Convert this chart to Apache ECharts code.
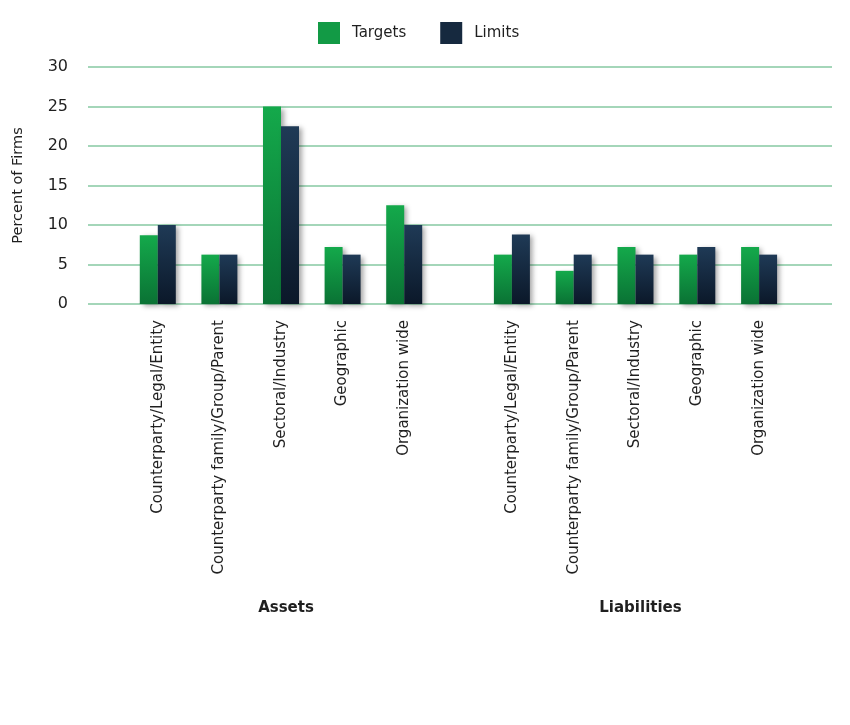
<!DOCTYPE html>
<html>
<head>
<meta charset="utf-8">
<script src="https://cdn.jsdelivr.net/npm/echarts@6/dist/echarts.min.js"></script>
<style>html,body{margin:0;padding:0;background:#fff;}#c{width:850px;height:725px;}</style>
</head>
<body>
<div id="c"></div>
<script>
const categories = ['Counterparty/Legal/Entity','Counterparty family/Group/Parent','Sectoral/Industry','Geographic','Organization wide'];
const groups = ['Assets','Liabilities'];
const assetsTargets = [8.7, 6.25, 25, 7.2, 12.5];
const assetsLimits = [10, 6.25, 22.5, 6.25, 10];
const liabTargets = [6.25, 4.2, 7.2, 6.25, 7.2];
const liabLimits = [8.8, 6.25, 6.25, 7.2, 6.25];
const yTicks = {min: 0, max: 30, interval: 5};

const FONT = 'DejaVu Sans';
const txt = '#1f1f1f';
const greenGrad = new echarts.graphic.LinearGradient(0,0,0,1,[{offset:0,color:'#14a94b'},{offset:1,color:'#0a7234'}]);
const navyGrad = new echarts.graphic.LinearGradient(0,0,0,1,[{offset:0,color:'#1f3a56'},{offset:1,color:'#0b1829'}]);
const shadow = {shadowBlur: 5, shadowOffsetX: 3, shadowOffsetY: 2, shadowColor: 'rgba(0,0,0,0.35)'};

const chart = echarts.init(document.getElementById('c'), null, {renderer:'canvas'});
const catAxis = (gi, name) => ([
  {type:'category', gridIndex:gi, data:categories, axisLine:{show:false}, axisTick:{show:false},
   axisLabel:{rotate:90, interval:0, fontSize:15, color:txt, fontFamily:FONT, margin:16}},
  {type:'category', gridIndex:gi, data:[name], position:'bottom', offset:297, axisLine:{show:false}, axisTick:{show:false},
   axisLabel:{fontSize:15, fontWeight:'bold', color:txt, fontFamily:FONT, margin:0, padding:[0,0,0,10]}}
]);
const hiddenY = gi => ({type:'value', gridIndex:gi, min:yTicks.min, max:yTicks.max, interval:yTicks.interval, show:false, splitLine:{show:false}});
const barSeries = (name, data, xi, yi, color) => ({
  name, type:'bar', data, xAxisIndex:xi, yAxisIndex:yi, barWidth:18, barGap:'0%',
  itemStyle: Object.assign({color}, shadow)
});

chart.setOption({
  animation:false,
  backgroundColor:'#fff',
  textStyle:{fontFamily:FONT},
  legend:{
    data:[{name:'Targets', itemStyle:{color:'#129a45'}},{name:'Limits', itemStyle:{color:'#16293f'}}],
    top:17, left:313, itemWidth:22, itemHeight:22, itemGap:34, icon:'rect',
    textStyle:{fontSize:15, color:txt, fontFamily:FONT, padding:[0,0,0,7]}
  },
  grid:[
    {left:88, right:18, top:67, height:237},
    {left:127, width:308, top:67, height:237},
    {left:481, width:309, top:67, height:237}
  ],
  xAxis:[
    {type:'value', gridIndex:0, min:0, max:1, show:false},
    ...catAxis(1, groups[0]),
    ...catAxis(2, groups[1])
  ],
  yAxis:[
    {type:'value', gridIndex:0, min:yTicks.min, max:yTicks.max, interval:yTicks.interval,
     name:'Percent of Firms', nameLocation:'middle', nameRotate:90, nameGap:62,
     nameTextStyle:{fontSize:14.5, color:txt, fontFamily:FONT},
     axisLine:{show:false}, axisTick:{show:false},
     axisLabel:{fontSize:16, color:txt, fontFamily:FONT, margin:20},
     splitLine:{show:true, lineStyle:{color:'#86c8a2', width:1.6}}},
    hiddenY(1), hiddenY(2)
  ],
  series:[
    barSeries('Targets', assetsTargets, 1, 1, greenGrad),
    barSeries('Limits', assetsLimits, 1, 1, navyGrad),
    barSeries('Targets', liabTargets, 3, 2, greenGrad),
    barSeries('Limits', liabLimits, 3, 2, navyGrad)
  ]
});
</script>
</body>
</html>
